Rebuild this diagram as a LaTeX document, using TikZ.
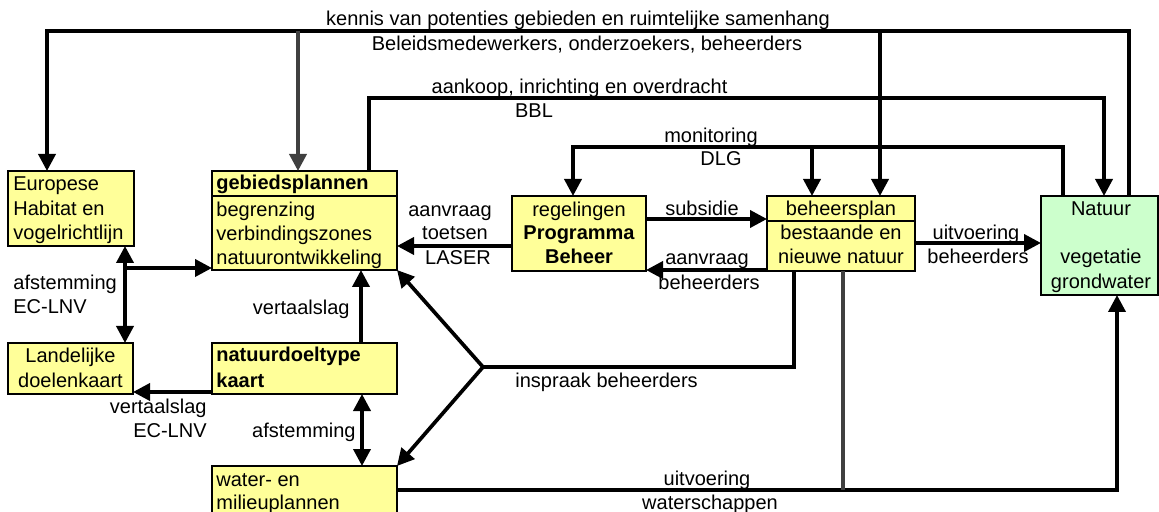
\documentclass[tikz,border=0pt]{standalone}
\usepackage{fontspec}
\setmainfont{Liberation Sans}
\usetikzlibrary{arrows.meta}
\definecolor{boxyellow}{HTML}{FFFF99}
\definecolor{natgreen}{HTML}{CCFFCC}
\definecolor{darkline}{HTML}{404040}
\begin{document}
\begin{tikzpicture}[x=0.5pt,y=-0.5pt,
  box/.style={draw=black, line width=1.45pt, fill=boxyellow, anchor=north west, inner sep=0pt, outer sep=0pt},
  sepline/.style={line width=1.45pt},
  conn/.style={line width=1.85pt, -{Triangle[length=8.5pt,width=8.5pt]}},
  dconn/.style={line width=1.85pt, {Triangle[length=8.5pt,width=8.5pt]}-{Triangle[length=8.5pt,width=8.5pt]}},
  wire/.style={line width=1.85pt},
  lbl/.style={inner sep=0pt, font=\fontsize{10}{12}\selectfont},
  blbl/.style={inner sep=0pt, font=\fontsize{10}{12}\selectfont\bfseries},
  ]
\useasboundingbox (0,0) rectangle (1159,512);

% boxes
\node[box, minimum width=63pt,   minimum height=37.5pt] (eu)  at (8,171) {};
\node[box, minimum width=92.5pt, minimum height=49.5pt] (geb) at (212,171) {};
\node[box, minimum width=67pt,   minimum height=37.5pt] (reg) at (512,196) {};
\node[box, minimum width=74pt,   minimum height=37.5pt] (beh) at (767,196) {};
\node[box, fill=natgreen, minimum width=58.5pt, minimum height=49.5pt] (nat) at (1041,196) {};
\node[box, minimum width=62.5pt, minimum height=25.5pt] (lan) at (8,343) {};
\node[box, minimum width=92.5pt, minimum height=25.5pt] (ndt) at (212,343) {};
\node[box, minimum width=92.5pt, minimum height=30pt]   (wat) at (212,466) {};
\draw[sepline] ([yshift=-12.5pt]geb.north west) -- ([yshift=-12.5pt]geb.north east);
\draw[sepline] ([yshift=-12.5pt]beh.north west) -- ([yshift=-12.5pt]beh.north east);

% box texts
\node[lbl, anchor=base west] (eu1) at (13,191) {Europese};
\node[lbl, anchor=base west] (eu2) at (13,216) {Habitat en};
\node[lbl, anchor=base west] (eu3) at (13,240) {vogelrichtlijn};
\node[blbl, anchor=base west] (geb0) at (216,190) {gebiedsplannen};
\node[lbl, anchor=base west] (geb1) at (216,217) {begrenzing};
\node[lbl, anchor=base west] (geb2) at (216,241) {verbindingszones};
\node[lbl, anchor=base west] (geb3) at (216,265) {natuurontwikkeling};
\node[lbl, anchor=base] (reg1) at (579,217) {regelingen};
\node[blbl, anchor=base] (reg2) at (579,240) {Programma};
\node[blbl, anchor=base] (reg3) at (579,264) {Beheer};
\node[lbl, anchor=base] (beh0) at (841,216) {beheersplan};
\node[lbl, anchor=base] (beh1) at (841,240) {bestaande en};
\node[lbl, anchor=base] (beh2) at (841,264) {nieuwe natuur};
\node[lbl, anchor=base] (nat1) at (1101,216) {Natuur};
\node[lbl, anchor=base] (nat2) at (1101,264) {vegetatie};
\node[lbl, anchor=base] (nat3) at (1101,289) {grondwater};
\node[lbl, anchor=base] (lan1) at (70.5,363) {Landelijke};
\node[lbl, anchor=base] (lan2) at (70.5,387) {doelenkaart};
\node[blbl, anchor=base west] (ndt1) at (216,362) {natuurdoeltype};
\node[blbl, anchor=base west] (ndt2) at (216,387) {kaart};
\node[lbl, anchor=base west] (wat1) at (216,486) {water- en};
\node[lbl, anchor=base west] (wat2) at (216,509) {milieuplannen};

% connector labels
\node[lbl, anchor=base] (lk1) at (578,26) {kennis van potenties gebieden en ruimtelijke samenhang};
\node[lbl, anchor=base] (lk2) at (587,51) {Beleidsmedewerkers, onderzoekers, beheerders};
\node[lbl, anchor=base] (la1) at (579.5,94) {aankoop, inrichting en overdracht};
\node[lbl, anchor=base] (la2) at (534,118) {BBL};
\node[lbl, anchor=base] (lm1) at (711,143) {monitoring};
\node[lbl, anchor=base] (lm2) at (721,166) {DLG};
\node[lbl, anchor=base] (lt1) at (450,217) {aanvraag};
\node[lbl, anchor=base] (lt2) at (455,240) {toetsen};
\node[lbl, anchor=base] (lt3) at (458,265) {LASER};
\node[lbl, anchor=base] (ls1) at (702,216) {subsidie};
\node[lbl, anchor=base] (lb1) at (707,265) {aanvraag};
\node[lbl, anchor=base] (lb2) at (709,290) {beheerders};
\node[lbl, anchor=base] (lu1) at (976,240) {uitvoering};
\node[lbl, anchor=base] (lu2) at (978,264) {beheerders};
\node[lbl, anchor=base west] (le1) at (13,290) {afstemming};
\node[lbl, anchor=base west] (le2) at (13,314) {EC-LNV};
\node[lbl, anchor=base east] (lv1) at (350,315) {vertaalslag};
\node[lbl, anchor=base east] (lv2) at (207,413) {vertaalslag};
\node[lbl, anchor=base east] (lv3) at (207,437) {EC-LNV};
\node[lbl, anchor=base east] (lf1) at (356,437) {afstemming};
\node[lbl, anchor=base west] (li1) at (515,387) {inspraak beheerders};
\node[lbl, anchor=base] (lw1) at (707,485) {uitvoering};
\node[lbl, anchor=base] (lw2) at (710,509) {waterschappen};

% bend coordinates
\coordinate (kR) at (1129,31);
\coordinate (kL) at (47,31);
\coordinate (kG) at (298,31);
\coordinate (kB) at (880,31);
\coordinate (aL) at (369,98);
\coordinate (aR) at (1104,98);
\coordinate (mR) at (1063,147);
\coordinate (mL) at (573,147);
\coordinate (mB) at (812,147);
\coordinate (yT) at (0,246);
\coordinate (yS) at (0,219);
\coordinate (yA) at (0,270);
\coordinate (yU) at (0,243);
\coordinate (iB) at (794,367);
\coordinate (iJ) at (483,367);
\coordinate (wR) at (1117,490);
\coordinate (wG) at (843,490);
\coordinate (eX) at (125,268);
\coordinate (nX) at (361,0);
\coordinate (yN) at (0,392);
\coordinate (nY) at (362,0);

% connectors
\draw[conn] (kR |- nat.north) -- (kR) -- (kL) -- (kL |- eu.north);
\draw[conn, darkline] (kG) -- (kG |- geb.north);
\draw[conn] (kB) -- (kB |- beh.north);
\draw[conn] (aL |- geb.north) -- (aL) -- (aR) -- (aR |- nat.north);
\draw[conn] (mR |- nat.north) -- (mR) -- (mL) -- (mL |- reg.north);
\draw[conn] (mB) -- (mB |- beh.north);
\draw[conn] (reg.west |- yT) -- (geb.east |- yT);
\draw[conn] (reg.east |- yS) -- (beh.west |- yS);
\draw[conn] (beh.west |- yA) -- (reg.east |- yA);
\draw[conn] (beh.east |- yU) -- (nat.west |- yU);
\draw[wire] (iB |- beh.south) -- (iB) -- (iJ);
\draw[conn] (iJ) -- (geb.south east);
\draw[conn] (iJ) -- (wat.north east);
\draw[conn] (wat.east |- wR) -- (wR) -- (wR |- nat.south);
\draw[wire, darkline] (wG |- beh.south) -- (wG);
\draw[dconn] (eX |- eu.south) -- (eX |- lan.north);
\draw[conn] (eX) -- (geb.west |- eX);
\draw[conn] (nX |- ndt.north) -- (nX |- geb.south);
\draw[conn] (ndt.west |- yN) -- (lan.east |- yN);
\draw[dconn] (nY |- ndt.south) -- (nY |- wat.north);
\end{tikzpicture}
\end{document}
